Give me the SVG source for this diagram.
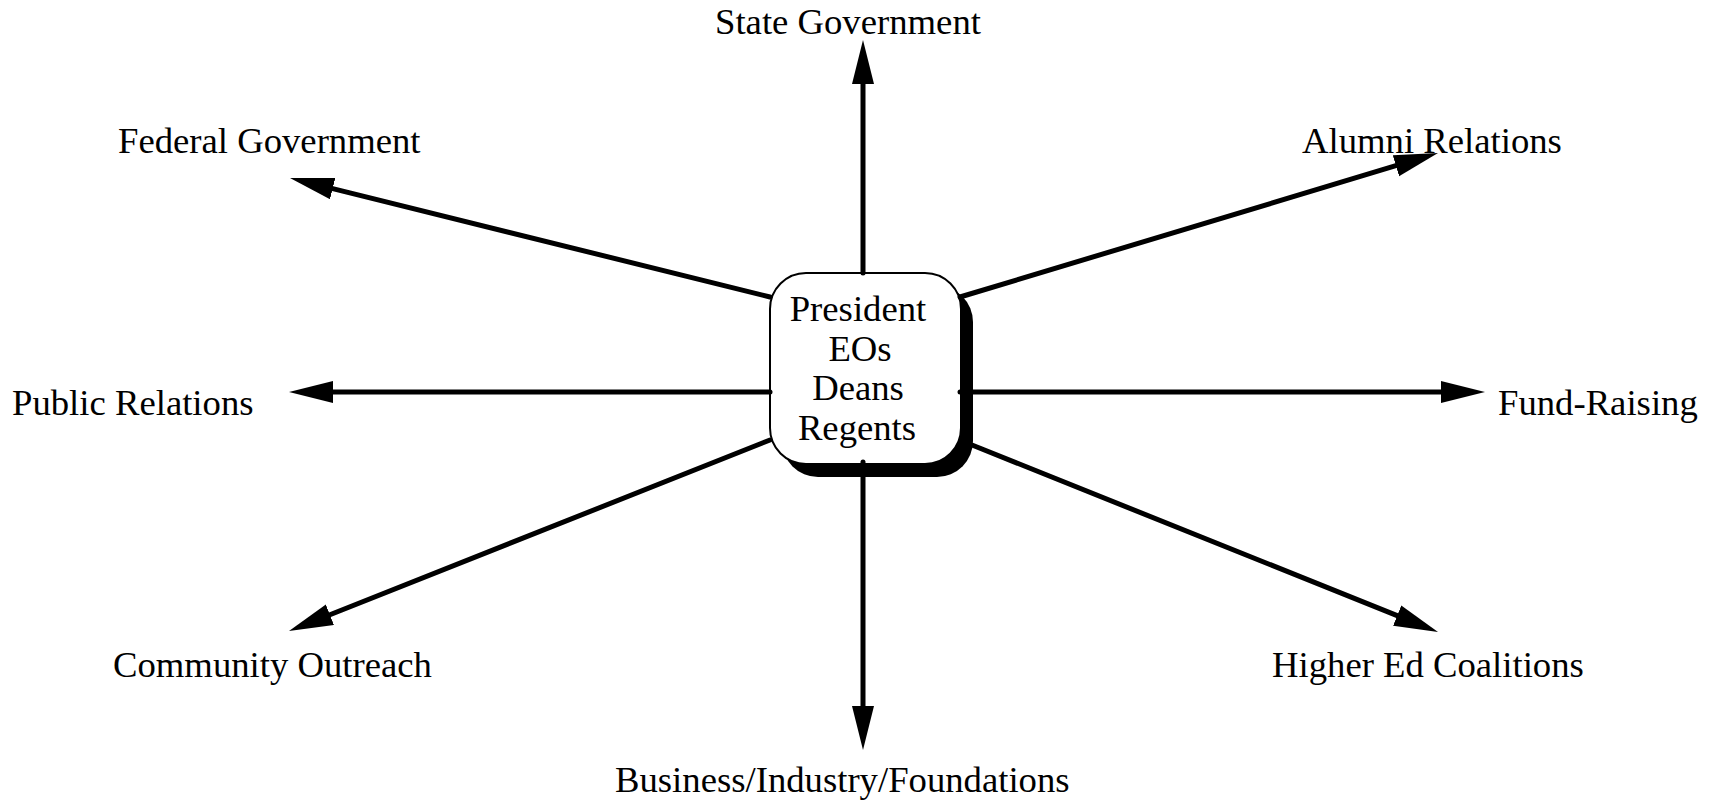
<svg xmlns="http://www.w3.org/2000/svg" width="1717" height="806" viewBox="0 0 1717 806">
<style>
text { font-family: "Liberation Serif", "Times New Roman", serif; font-size: 36.7px; fill: #000; }
.c { fill: none; stroke: #000; stroke-width: 5; stroke-linecap: round; marker-end: url(#ah); }
.box { fill: #fff; stroke: #000; stroke-width: 2; }
.shadow { fill: #000; }
</style>
<defs>
<marker id="ah" markerUnits="userSpaceOnUse" markerWidth="46" markerHeight="24" refX="0" refY="11" orient="auto" viewBox="0 0 46 24">
<path d="M0,0 L44,11 L0,22 z" fill="#000"/>
</marker>
</defs>
<rect width="1717" height="806" fill="#fff"/>
<g id="center-node">
<rect class="shadow" x="782" y="286" width="191" height="191" rx="36"/>
<rect class="box" x="770" y="273" width="191" height="191" rx="36"/>
<text x="858" y="321" text-anchor="middle">President</text>
<text x="860" y="361" text-anchor="middle">EOs</text>
<text x="858" y="400" text-anchor="middle">Deans</text>
<text x="857" y="440" text-anchor="middle">Regents</text>
</g>
<g id="connectors">
<line class="c" x1="863" y1="273" x2="863" y2="84"/>
<line class="c" x1="863" y1="462" x2="863" y2="706"/>
<line class="c" x1="770" y1="392" x2="333" y2="392"/>
<line class="c" x1="960" y1="392" x2="1441" y2="392"/>
<line class="c" x1="770" y1="297" x2="332.7" y2="188.6"/>
<line class="c" x1="960" y1="297" x2="1395.9" y2="165.7"/>
<line class="c" x1="770" y1="440" x2="329.9" y2="614.8"/>
<line class="c" x1="972" y1="445" x2="1397.2" y2="615.6"/>
</g>
<g id="state-government"><text x="715" y="34">State Government</text></g>
<g id="federal-government"><text x="118" y="153">Federal Government</text></g>
<g id="alumni-relations"><text x="1302" y="153">Alumni Relations</text></g>
<g id="public-relations"><text x="12" y="415">Public Relations</text></g>
<g id="fund-raising"><text x="1498" y="415">Fund-Raising</text></g>
<g id="community-outreach"><text x="113" y="677">Community Outreach</text></g>
<g id="higher-ed-coalitions"><text x="1272" y="677">Higher Ed Coalitions</text></g>
<g id="business-industry-foundations"><text x="615" y="792">Business/Industry/Foundations</text></g>
</svg>
